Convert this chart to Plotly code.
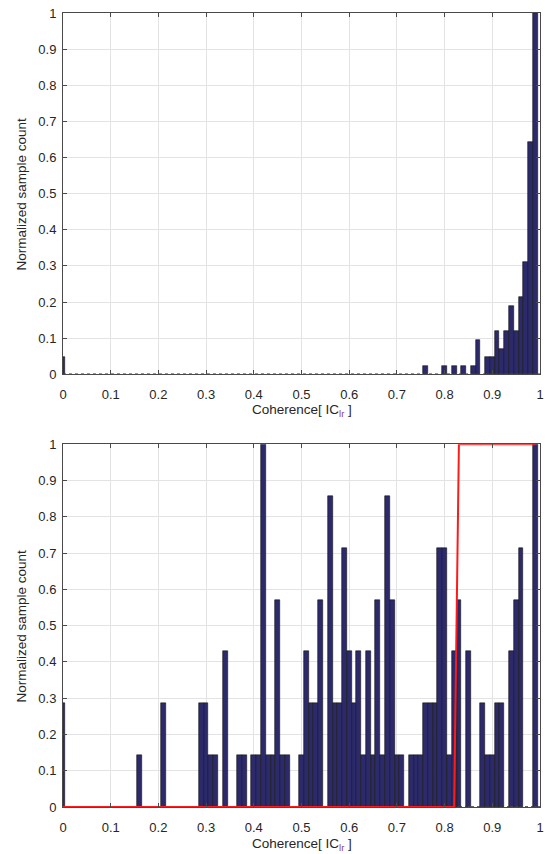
import plotly.graph_objects as go

# Histogram bins (bin centres, width 0.01) and normalized counts
top_bins = [0.00, 0.76, 0.80, 0.82, 0.84, 0.86, 0.87, 0.89, 0.90, 0.91, 0.92,
            0.93, 0.94, 0.95, 0.96, 0.97, 0.98, 0.99]
top_values = [0.048, 0.024, 0.024, 0.024, 0.024, 0.024, 0.095, 0.048, 0.048, 0.119, 0.071,
              0.119, 0.190, 0.119, 0.214, 0.310, 0.643, 1.0]

bottom_bins = [0.00, 0.16, 0.21, 0.29, 0.30, 0.31, 0.32, 0.34, 0.37, 0.38, 0.40, 0.41,
               0.42, 0.43, 0.44, 0.45, 0.46, 0.47, 0.50, 0.51, 0.52, 0.53, 0.54, 0.56,
               0.57, 0.58, 0.59, 0.60, 0.61, 0.62, 0.63, 0.64, 0.65, 0.66, 0.67, 0.68,
               0.69, 0.70, 0.71, 0.73, 0.74, 0.75, 0.76, 0.77, 0.78, 0.79, 0.80, 0.81,
               0.82, 0.83, 0.85, 0.88, 0.89, 0.90, 0.91, 0.92, 0.94, 0.95, 0.96, 0.99]
bottom_values = [0.286, 0.143, 0.286, 0.286, 0.286, 0.143, 0.143, 0.429, 0.143, 0.143, 0.143, 0.143,
                 1.0, 0.143, 0.143, 0.571, 0.143, 0.143, 0.143, 0.429, 0.286, 0.286, 0.571, 0.857,
                 0.286, 0.286, 0.714, 0.429, 0.286, 0.429, 0.143, 0.429, 0.143, 0.571, 0.143, 0.857,
                 0.571, 0.143, 0.143, 0.143, 0.143, 0.143, 0.286, 0.286, 0.286, 0.714, 0.714, 0.143,
                 0.429, 0.571, 0.429, 0.286, 0.143, 0.143, 0.286, 0.286, 0.429, 0.571, 0.714, 1.0]

# Threshold step curve (red)
red_x = [0.0, 0.82, 0.83, 0.99]
red_y = [0.0, 0.0, 1.0, 1.0]

tick_vals = [0, 0.1, 0.2, 0.3, 0.4, 0.5, 0.6, 0.7, 0.8, 0.9, 1]
tick_text = ["0", "0.1", "0.2", "0.3", "0.4", "0.5", "0.6", "0.7", "0.8", "0.9", "1"]

x_title = "Coherence[ IC<sub><span style='color:#8a3a8a'>lr</span></sub> ]"
y_title = "Normalized sample count"

bar_color = "#2d2a6c"
text_color = "#262626"
font_family = "Liberation Sans, Arial, Helvetica, sans-serif"

fig = go.Figure()

for bins, vals, xa, ya in [(top_bins, top_values, "x", "y"),
                           (bottom_bins, bottom_values, "x2", "y2")]:
    fig.add_trace(go.Scatter(x=[0, 1], y=[0, 0], mode="lines",
                             line=dict(color="#333333", width=1.5, dash="dot"),
                             xaxis=xa, yaxis=ya, showlegend=False, hoverinfo="skip"))
    fig.add_trace(go.Bar(x=bins, y=vals, width=0.01,
                         marker=dict(color=bar_color, line=dict(color="#111111", width=0.6)),
                         xaxis=xa, yaxis=ya, showlegend=False))

fig.add_trace(go.Scatter(x=red_x, y=red_y, mode="lines",
                         line=dict(color="#ff1a1a", width=2),
                         xaxis="x2", yaxis="y2", showlegend=False))

axis_common = dict(
    range=[0, 1], tickmode="array", tickvals=tick_vals, ticktext=tick_text,
    showgrid=True, gridcolor="#e3e3e3", gridwidth=1,
    showline=True, linecolor="#4a4a4a", linewidth=1, mirror="allticks",
    ticks="inside", ticklen=4, tickcolor="#4a4a4a", automargin=False,
    zeroline=False, tickfont=dict(size=13, color=text_color, family=font_family),
)
x_extra = dict(ticklabelstandoff=8)
y_extra = dict(ticklabelstandoff=3)

title_font = dict(size=13.5, color=text_color, family=font_family)
annotations = [
    dict(text=x_title, xref="paper", yref="paper", x=0.5, y=0.5, xanchor="center",
         yanchor="middle", showarrow=False, font=title_font),
    dict(text=x_title, xref="paper", yref="paper", x=0.5, y=-0.047, xanchor="center",
         yanchor="middle", showarrow=False, font=title_font),
    dict(text=y_title, xref="paper", yref="paper", x=-0.086, y=0.7725, xanchor="center",
         yanchor="middle", textangle=-90, showarrow=False, font=title_font),
    dict(text=y_title, xref="paper", yref="paper", x=-0.086, y=0.2285, xanchor="center",
         yanchor="middle", textangle=-90, showarrow=False, font=title_font),
]

fig.update_layout(
    width=545, height=854,
    margin=dict(l=63, r=5, t=13, b=47),
    paper_bgcolor="white", plot_bgcolor="white",
    bargap=0,
    annotations=annotations,
    xaxis=dict(axis_common, **x_extra, domain=[0, 1], anchor="y"),
    yaxis=dict(axis_common, **y_extra, domain=[0.545, 1.0], anchor="x"),
    xaxis2=dict(axis_common, **x_extra, domain=[0, 1], anchor="y2"),
    yaxis2=dict(axis_common, **y_extra, domain=[0.0, 0.457], anchor="x2"),
)

fig.write_html("out.html", config={"displayModeBar": False},
               post_script="document.body.style.margin='0px';document.body.style.overflow='hidden';")
